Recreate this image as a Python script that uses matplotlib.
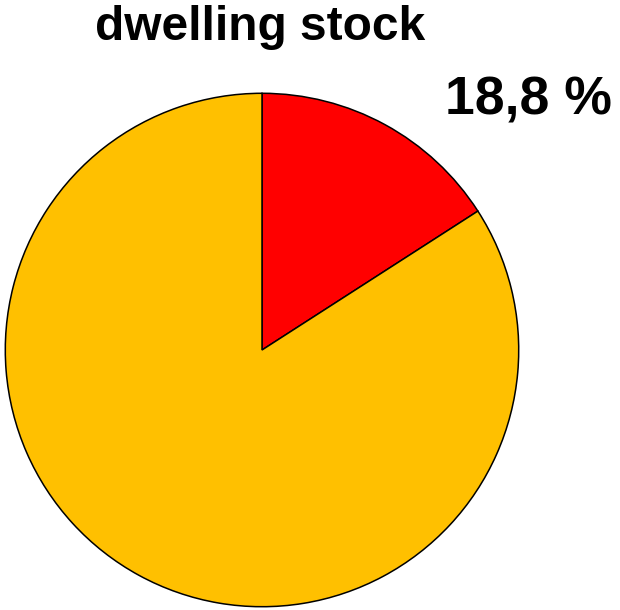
import matplotlib
matplotlib.use("Agg")
import matplotlib.pyplot as plt

# slice shares (red slice, rest of stock)
categories = ["highlighted", "rest"]
shares = [15.9, 84.1]
colors = ["#FF0000", "#FFC000"]
title_text = "dwelling stock"
label_text = "18,8 %"

plt.rcParams["font.family"] = ["Liberation Sans", "DejaVu Sans"]

W, H = 620, 610
fig = plt.figure(figsize=(W / 100, H / 100), dpi=100)

# pie axes: square box centred at (262, 350) px, radius 258 px
cx, cy, r = 262, 350, 258
ax = fig.add_axes([(cx - r) / W, (H - cy - r) / H, 2 * r / W, 2 * r / H])
ax.pie(shares, colors=colors, startangle=90, counterclock=False, radius=1,
       wedgeprops=dict(edgecolor="black", linewidth=1.1))
ax.set_xlim(-1.005, 1.005)
ax.set_ylim(-1.005, 1.005)
ax.set_aspect("equal")
ax.axis("off")

fig.text(260 / W, 1 - 27 / H, title_text, ha="center", va="center",
         fontsize=34.5, fontweight="bold")
fig.text(528 / W, 1 - 101 / H, label_text, ha="center", va="center",
         fontsize=38.5, fontweight="bold")

fig.savefig("out.png", dpi=100)
